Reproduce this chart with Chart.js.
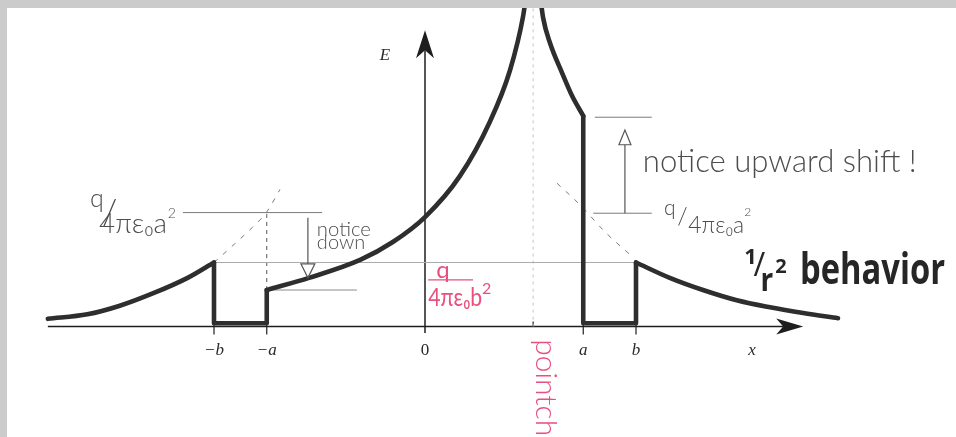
<!DOCTYPE html>
<html>
<head>
<meta charset="utf-8">
<script src="https://cdn.jsdelivr.net/npm/chart.js@4.4.1/dist/chart.umd.min.js"></script>
<style>
  html, body { margin: 0; padding: 0; background: #ffffff; }
  #wrap { width: 956px; height: 437px; position: relative; }
</style>
</head>
<body>
<div id="wrap"><canvas id="c"></canvas></div>
<script>
// Field magnitude E along a line through a thick conducting shell (radii a < b)
// holding an off-centre point charge in its cavity.
// x in lengths with a = 3, b = 4; E in units of q/4πε0b².
const A = 3, B = 4;
const chargeX = 2.05;

// E outside the shell, left side
const leftOuterX = [-7.15, -6.4, -5.8, -5.15, -4.5, -4.0];
const leftOuterE = [0.12, 0.19, 0.32, 0.52, 0.76, 1.0];
// inside the metal (left wall)
const leftShellX = [-4, -4, -3, -3];
const leftShellE = [1.0, 0.05, 0.05, 0.57];
// cavity, left of the charge
const leftInnerX = [-3, -2.2, -1.23, -0.61, 0, 0.66, 1.23, 1.61, 1.86, 1.93];
const leftInnerE = [0.57, 0.76, 1.04, 1.32, 1.71, 2.35, 3.2, 4.0, 4.85, 5.25];
// cavity, right of the charge
const rightInnerX = [2.17, 2.24, 2.37, 2.60, 2.79, 3.0];
const rightInnerE = [5.25, 4.82, 4.43, 3.96, 3.60, 3.29];
// inside the metal (right wall)
const rightShellX = [3, 3, 4, 4];
const rightShellE = [3.29, 0.05, 0.05, 1.0];
// E outside the shell, right side
const rightOuterX = [4, 4.64, 5.27, 5.91, 6.54, 7.17, 7.83];
const rightOuterE = [1.0, 0.76, 0.57, 0.41, 0.30, 0.21, 0.13];

// reference levels
const levelA = 1.78;      // q/4πε0a²
const levelB = 1.0;       // q/4πε0b²
const levelInner = 0.57;  // just inside r = a on the left
const levelUp = 3.27;     // just inside r = a on the right
// 1/r² continuations over the shell walls
const extLeftX = [-4, -3.57, -3.27, -3.0, -2.75];
const extLeftE = [1.0, 1.32, 1.55, 1.79, 2.14];
const extRightX = [2.5, 2.94, 3.41, 3.89];
const extRightE = [2.24, 1.90, 1.48, 1.12];

const tickValues = [-B, -A, 0, A, B];
const tickLabels = ['−b', '−a', '0', 'a', 'b'];

const pts = (xs, ys) => xs.map((x, i) => ({ x, y: ys[i] }));

const INK = '#2e2e2e';
const curve = (xs, ys, smooth) => ({
  data: pts(xs, ys),
  borderColor: INK,
  borderWidth: 4.6,
  borderCapStyle: 'round',
  borderJoinStyle: 'round',
  pointRadius: 0,
  fill: false,
  tension: 0,
  cubicInterpolationMode: smooth ? 'monotone' : 'default',
  order: 0
});
const guide = (xs, ys, color, dash, width) => ({
  data: pts(xs, ys),
  borderColor: color,
  borderWidth: width || 1,
  borderDash: dash || [],
  pointRadius: 0,
  fill: false,
  tension: 0,
  cubicInterpolationMode: 'monotone',
  order: 5
});

const datasets = [
  curve(leftOuterX, leftOuterE, true),
  curve(leftShellX, leftShellE, false),
  curve(leftInnerX, leftInnerE, true),
  curve(rightInnerX, rightInnerE, true),
  curve(rightShellX, rightShellE, false),
  curve(rightOuterX, rightOuterE, true),
  guide([-4.59, -1.95], [levelA, levelA], '#7a7a7a'),
  guide([-B, B], [levelB, levelB], '#ababab'),
  guide([-A, -1.29], [levelInner, levelInner], '#8c8c8c'),
  guide([3.22, 4.30], [levelUp, levelUp], '#7a7a7a'),
  guide([3.19, 4.30], [1.77, 1.77], '#7a7a7a'),
  guide([-A, -A], [levelInner, levelA], '#555555', [4, 4]),
  guide([chargeX, chargeX], [0, 5.2], '#c4c4c4', [3, 4]),
  guide(extLeftX, extLeftE, '#7a7a7a', [5, 7]),
  guide(extRightX, extRightE, '#7a7a7a', [5, 7])
];

function text(ctx, s, x, y, o) {
  o = o || {};
  const size = o.size || 14;
  const fam = o.family || 'Lato, "Open Sans", sans-serif';
  const pre = (o.style || '') + ' ' + (o.weight || '') + ' ';
  let fs = size;
  ctx.font = pre + fs + 'px ' + fam;
  if (o.w) {
    fs = size * o.w / ctx.measureText(s).width;
    ctx.font = pre + fs + 'px ' + fam;
  }
  ctx.save();
  ctx.fillStyle = o.color || '#4a4a4a';
  ctx.textAlign = o.align || 'left';
  ctx.textBaseline = o.baseline || 'alphabetic';
  ctx.translate(x, y);
  if (o.rot) ctx.rotate(o.rot);
  if (o.sy) ctx.scale(1, o.sy);
  ctx.fillText(s, 0, 0);
  ctx.restore();
}

function openHead(ctx, x, tipY, baseY, half) {
  ctx.beginPath();
  ctx.moveTo(x - half, baseY);
  ctx.lineTo(x, tipY);
  ctx.lineTo(x + half, baseY);
  ctx.closePath();
  ctx.stroke();
}

const sketch = {
  id: 'sketch',
  beforeDatasetsDraw(chart) {
    const ctx = chart.ctx, X = chart.scales.x, Y = chart.scales.y;
    const px = v => X.getPixelForValue(v), py = v => Y.getPixelForValue(v);
    ctx.save();
    ctx.strokeStyle = '#1e1e1e';
    ctx.fillStyle = '#1e1e1e';
    ctx.lineWidth = 1.5;
    // x axis
    const x0 = px(-7.15), xTip = px(7.17), y0 = py(0);
    ctx.beginPath(); ctx.moveTo(x0, y0); ctx.lineTo(xTip - 20, y0); ctx.stroke();
    ctx.beginPath();
    ctx.moveTo(xTip, y0); ctx.lineTo(xTip - 27, y0 - 8); ctx.lineTo(xTip - 20, y0);
    ctx.lineTo(xTip - 27, y0 + 8); ctx.closePath(); ctx.fill();
    // E axis
    const xa = px(0), yTip = py(4.63);
    ctx.beginPath(); ctx.moveTo(xa, py(-0.1)); ctx.lineTo(xa, yTip + 20); ctx.stroke();
    ctx.beginPath();
    ctx.moveTo(xa, yTip); ctx.lineTo(xa - 9, yTip + 28); ctx.lineTo(xa, yTip + 20);
    ctx.lineTo(xa + 9, yTip + 28); ctx.closePath(); ctx.fill();
    // tick marks
    ctx.lineWidth = 1.2;
    tickValues.forEach(v => {
      if (v === 0) return;
      ctx.beginPath(); ctx.moveTo(px(v), y0 - 3); ctx.lineTo(px(v), y0 + 8); ctx.stroke();
    });
    ctx.beginPath(); ctx.moveTo(px(chargeX), y0 - 5); ctx.lineTo(px(chargeX), y0); ctx.stroke();
    ctx.restore();
  },
  afterDatasetsDraw(chart) {
    const ctx = chart.ctx, X = chart.scales.x, Y = chart.scales.y;
    const px = v => X.getPixelForValue(v), py = v => Y.getPixelForValue(v);
    const serif = '"Liberation Serif", "DejaVu Serif", serif';
    // tick labels
    tickValues.forEach((v, i) => {
      text(ctx, tickLabels[i], px(v), py(-0.383), {
        size: 17, family: serif, style: v === 0 ? '' : 'italic',
        color: '#2a2a2a', align: 'center', baseline: 'middle'
      });
    });
    text(ctx, 'x', px(6.2), py(-0.383), { size: 17, family: serif, style: 'italic', color: '#2a2a2a', align: 'center', baseline: 'middle' });
    text(ctx, 'E', px(-0.76), py(4.24), { size: 17, family: serif, style: 'italic', color: '#2a2a2a', align: 'center', baseline: 'middle' });

    const pencil = '#4d4d4d';
    // q/4πε0a² (left)
    text(ctx, 'q', px(-6.22), py(2.0), { size: 25, weight: '300', color: pencil, align: 'center', baseline: 'middle' });
    text(ctx, '/', px(-5.98), py(1.76), { size: 36, weight: '300', color: pencil, align: 'center', baseline: 'middle' });
    text(ctx, '4πε₀a', px(-6.18), py(1.46), { size: 18, weight: '300', color: pencil, w: 68 });
    text(ctx, '2', px(-4.80), py(1.77), { size: 14, weight: '300', color: pencil, align: 'center', baseline: 'middle' });

    // notice down
    text(ctx, 'notice', px(-2.05), py(1.51), { size: 15, weight: '300', color: pencil, baseline: 'middle', w: 54 });
    text(ctx, 'down', px(-2.05), py(1.31), { size: 20, weight: '300', color: pencil, baseline: 'middle', sy: 0.95 });
    ctx.save();
    ctx.strokeStyle = '#555'; ctx.lineWidth = 1.2;
    ctx.beginPath(); ctx.moveTo(px(-2.22), py(1.70)); ctx.lineTo(px(-2.22), py(0.98)); ctx.stroke();
    openHead(ctx, px(-2.22), py(0.76), py(0.98), 7);
    // notice upward shift arrow
    ctx.beginPath(); ctx.moveTo(px(3.79), py(1.77)); ctx.lineTo(px(3.79), py(2.84)); ctx.stroke();
    openHead(ctx, px(3.79), py(3.07), py(2.84), 6);
    ctx.restore();

    text(ctx, 'notice upward shift !', px(4.13), py(2.41), { size: 22, weight: '300', color: pencil, w: 274 });

    // q/4πε0a² (right)
    text(ctx, 'q', px(4.64), py(1.85), { size: 21, weight: '300', color: pencil, align: 'center', baseline: 'middle' });
    text(ctx, '/', px(4.88), py(1.72), { size: 24, weight: '300', color: pencil, align: 'center', baseline: 'middle' });
    text(ctx, '4πε₀a', px(4.99), py(1.58), { size: 15, weight: '300', color: pencil, baseline: 'middle', w: 56 });
    text(ctx, '2', px(6.12), py(1.78), { size: 12, weight: '300', color: pencil, align: 'center', baseline: 'middle' });

    // 1/r² behavior
    const bold = '"Open Sans", Lato, sans-serif';
    text(ctx, '1', px(6.17), py(1.07), { size: 22, weight: '700', family: bold, color: '#262626', align: 'center', baseline: 'middle' });
    text(ctx, '/', px(6.34), py(0.93), { size: 32, weight: '400', family: bold, color: '#262626', align: 'center', baseline: 'middle' });
    text(ctx, 'r', px(6.48), py(0.70), { size: 28, weight: '700', family: bold, color: '#262626', align: 'center', baseline: 'middle', sy: 1.15 });
    text(ctx, '2', px(6.75), py(0.92), { size: 20, weight: '700', family: bold, color: '#262626', align: 'center', baseline: 'middle' });
    text(ctx, 'behavior', px(7.11), py(0.66), { size: 40, weight: '700', family: bold, color: '#262626', w: 145, sy: 1.3 });

    // q/4πε0b² (red)
    const red = '#e8507e';
    text(ctx, 'q', px(0.34), py(0.88), { size: 24, weight: '400', color: red, align: 'center', baseline: 'middle' });
    ctx.save();
    ctx.strokeStyle = red; ctx.lineWidth = 1.3;
    ctx.beginPath(); ctx.moveTo(px(0.06), py(0.727)); ctx.lineTo(px(0.91), py(0.727)); ctx.stroke();
    ctx.restore();
    text(ctx, '4πε₀b', px(0.06), py(0.445), { size: 18, weight: '400', color: red, baseline: 'middle', w: 54, sy: 1.15 });
    text(ctx, '2', px(1.17), py(0.59), { size: 16, weight: '400', color: red, align: 'center', baseline: 'middle' });

    // point charge label, running downward
    text(ctx, 'pointcharge', px(2.14) + 8, py(-0.2), { size: 22, weight: '300', color: red, rot: Math.PI / 2, baseline: 'middle', w: 152 });
  },
  afterDraw(chart) {
    const ctx = chart.ctx;
    ctx.save();
    ctx.fillStyle = '#cbcbcb';
    ctx.fillRect(0, 0, chart.width, 8);
    ctx.fillRect(0, 0, 7, chart.height);
    ctx.restore();
  }
};

new Chart(document.getElementById('c'), {
  type: 'line',
  data: { datasets },
  options: {
    responsive: true,
    maintainAspectRatio: false,
    animation: false,
    events: [],
    layout: { padding: { left: 3, right: 3.5, top: 6.5, bottom: 14.5 } },
    scales: {
      x: { type: 'linear', min: -8, max: 10, display: false },
      y: { type: 'linear', min: -1.5, max: 5, display: false }
    },
    plugins: { legend: { display: false }, tooltip: { enabled: false } }
  },
  plugins: [sketch]
});
</script>
</body>
</html>
